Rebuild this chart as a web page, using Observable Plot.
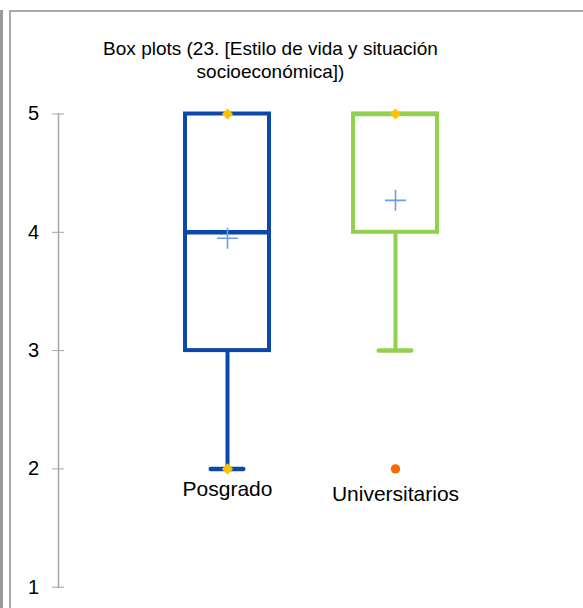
<!DOCTYPE html>
<html>
<head>
<meta charset="utf-8">
<script src="https://cdn.jsdelivr.net/npm/d3@7"></script>
<script src="https://cdn.jsdelivr.net/npm/@observablehq/plot@0.6"></script>
<style>
  html, body { margin: 0; padding: 0; background: #fff; }
  #wrap { position: relative; width: 583px; height: 608px; overflow: hidden; }
  #wrap svg { position: absolute; left: 0; top: 0; }
  .bar { position: absolute; left: 0; top: 10px; width: 3px; height: 598px; background: #9a9a9a; }
  .frame { position: absolute; left: 9px; top: 10px; width: 580px; height: 600px; border-left: 2px solid #a9a9a9; border-top: 2px solid #a9a9a9; box-sizing: border-box; }
</style>
</head>
<body>
<div id="wrap"><div class="bar"></div><div class="frame"></div></div>
<script>
const title = "Box plots (23. [Estilo de vida y situación\nsocioeconómica])";
const categories = ["Posgrado", "Universitarios"];
const q1 = [3, 4];
const median = [4, 5];
const q3 = [5, 5];
const whiskerLow = [2, 3];
const whiskerHigh = [5, 5];
const means = [3.95, 4.27];
const minimum = [2, 2];
const maximum = [5, 5];
const outlierCats = ["Universitarios"];
const outlierValues = [2];
const yTicks = [1, 2, 3, 4, 5];
const boxColors = ["#0b47ad", "#92d050"];

const rows = categories.map((c, i) => ({
  cat: c, q1: q1[i], median: median[i], q3: q3[i],
  lo: whiskerLow[i], hi: whiskerHigh[i], mean: means[i],
  min: minimum[i], max: maximum[i]
}));
const outliers = outlierCats.map((c, i) => ({cat: c, value: outlierValues[i]}));
// min/max markers (yellow diamonds) where the extreme is not an outlier
const extremes = [];
rows.forEach(d => {
  if (d.min >= d.lo) extremes.push({cat: d.cat, value: d.min});
  if (d.max <= d.hi) extremes.push({cat: d.cat, value: d.max});
});

const plusSymbol = {
  draw(context, size) {
    const r = Math.sqrt(size / Math.PI);
    context.moveTo(-r, 0); context.lineTo(r, 0);
    context.moveTo(0, -r); context.lineTo(0, r);
  }
};

const chart = Plot.plot({
  width: 583,
  height: 608,
  marginLeft: 58,
  marginRight: 101,
  marginTop: 113.5,
  marginBottom: 21.3,
  style: {fontFamily: "'Liberation Sans', Arial, sans-serif", background: "transparent", color: "#000"},
  x: {type: "band", domain: categories, range: [99.55, 522.05], padding: 0.5, axis: null},
  y: {domain: [1, 5], axis: null},
  color: {domain: categories, range: boxColors},
  marks: [
    Plot.frame({anchor: "left", stroke: "#a6a6a6", strokeWidth: 1.5}),
    Plot.axisY({ticks: yTicks, tickFormat: d3.format("d"), tickSize: 12, dx: 6, tickPadding: 13.5, stroke: "#a6a6a6", fill: "#000", fontSize: 20}),
    Plot.text([title], {frameAnchor: "top", lineAnchor: "top", dy: -75, fontSize: 19, lineHeight: 1.21, fill: "#000"}),
    Plot.ruleX(rows, {x: "cat", y1: "lo", y2: "q1", stroke: "cat", strokeWidth: 4}),
    Plot.ruleX(rows.filter(d => d.hi > d.q3), {x: "cat", y1: "q3", y2: "hi", stroke: "cat", strokeWidth: 4}),
    Plot.tickY(rows, {x: "cat", y: "lo", stroke: "cat", strokeWidth: 4.5, inset: 25.75, strokeLinecap: "round"}),
    Plot.tickY(rows.filter(d => d.hi > d.q3), {x: "cat", y: "hi", stroke: "cat", strokeWidth: 4.5, inset: 25.75, strokeLinecap: "round"}),
    Plot.barY(rows, {x: "cat", y1: "q1", y2: "q3", fill: "white", stroke: "cat", strokeWidth: 4}),
    Plot.tickY(rows, {x: "cat", y: "median", stroke: "cat", strokeWidth: 4.5}),
    Plot.dot(rows, {x: "cat", y: "mean", r: 10.5, symbol: plusSymbol, stroke: "#6b9cf0", strokeWidth: 1.6, fill: "none"}),
    Plot.dot(extremes, {x: "cat", y: "value", symbol: "diamond2", r: 5, fill: "#ffc000", stroke: "none"}),
    Plot.dot(outliers, {x: "cat", y: "value", r: 4.7, fill: "#ff6a00", stroke: "none"}),
    Plot.text(rows.filter(d => d.cat === "Posgrado"), {x: "cat", y: "min", text: "cat", dy: 27, lineAnchor: "bottom", fontSize: 21, fill: "#000"}),
    Plot.text(rows.filter(d => d.cat === "Universitarios"), {x: "cat", y: "min", text: "cat", dy: 32, lineAnchor: "bottom", fontSize: 21, fill: "#000"})
  ]
});
document.getElementById("wrap").prepend(chart);
</script>
</body>
</html>
